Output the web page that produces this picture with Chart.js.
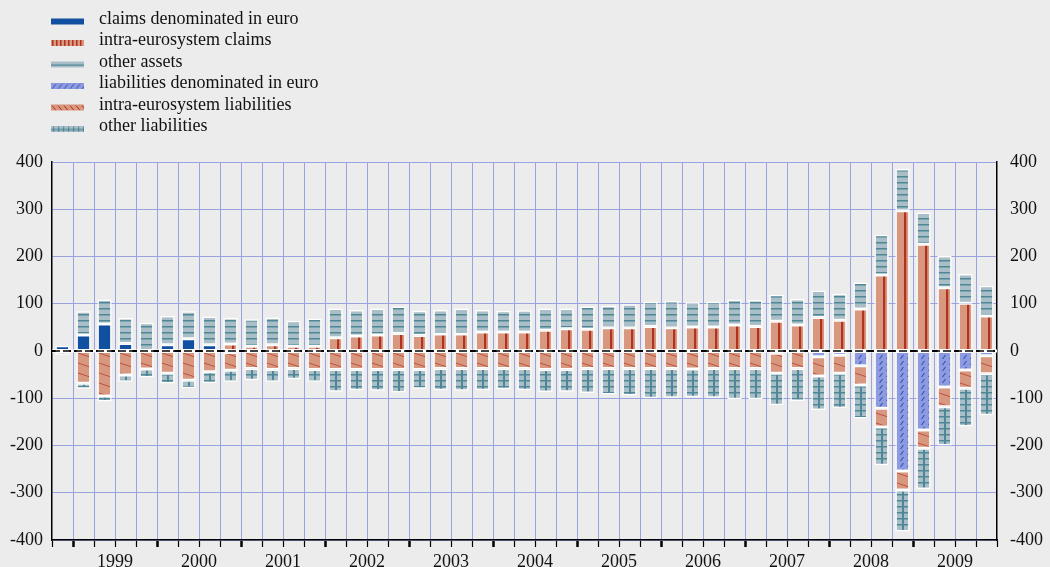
<!DOCTYPE html>
<html>
<head>
<meta charset="utf-8">
<script src="https://cdn.jsdelivr.net/npm/chart.js@4.4.0/dist/chart.umd.min.js"></script>
<style>
  html, body { margin: 0; padding: 0; background: #ececec; }
  #wrap { width: 1050px; height: 567px; }
</style>
</head>
<body>
<div id="wrap"><canvas id="myChart" width="1050" height="567"></canvas></div>
<script>
let labels = ['1998Q4',
  '1999Q1', '1999Q2', '1999Q3', '1999Q4', '2000Q1', '2000Q2', '2000Q3', '2000Q4',
  '2001Q1', '2001Q2', '2001Q3', '2001Q4', '2002Q1', '2002Q2', '2002Q3', '2002Q4',
  '2003Q1', '2003Q2', '2003Q3', '2003Q4', '2004Q1', '2004Q2', '2004Q3', '2004Q4',
  '2005Q1', '2005Q2', '2005Q3', '2005Q4', '2006Q1', '2006Q2', '2006Q3', '2006Q4',
  '2007Q1', '2007Q2', '2007Q3', '2007Q4', '2008Q1', '2008Q2', '2008Q3', '2008Q4',
  '2009Q1', '2009Q2', '2009Q3', '2009Q4'];

let claimsEuro = [11, 34, 57, 16, 0, 13, 26, 13, 0, 0, 0, 0, 0, 0, 0, 0, 0, 0, 0, 0, 0, 0, 0, 0, 0,
  0, 0, 0, 0, 0, 0, 0, 0, 0, 0, 0, 0, 0, 0, 0, 0, 0, 0, 0, 0];
let intraClaims = [0, 0, 0, 0, 0, 0, 0, 0, 15, 10, 13, 10, 10, 28, 32, 34, 37, 33, 36, 36, 40, 40, 40, 44, 47,
  46, 49, 49, 52, 49, 51, 51, 55, 52, 63, 55, 71, 65, 89, 161, 297, 226, 134, 101, 74];
let otherAssets = [0, 50, 52, 54, 60, 61, 58, 60, 55, 57, 58, 54, 59, 62, 55, 56, 57, 52, 51, 54, 47, 45, 46, 46, 43,
  48, 47, 50, 53, 57, 52, 54, 54, 56, 56, 55, 57, 56, 56, 85, 88, 67, 67, 62, 64];
let liabEuro = [0, 0, 0, 0, 0, 0, 0, 0, -3, 0, 0, 0, 0, 0, 0, 0, 0, 0, 0, 0, 0, 0, 0, 0, 0,
  0, 0, 0, 0, 0, 0, 0, 0, 0, -5, 0, -12, -9, -31, -121, -254, -167, -76, -40, -10];
let intraLiab = [0, -68, -95, -51, -38, -47, -62, -44, -38, -37, -39, -37, -39, -39, -39, -39, -39, -39, -37, -37, -37, -37, -37, -39, -39,
  -37, -37, -37, -37, -37, -38, -37, -37, -37, -42, -37, -41, -38, -41, -40, -40, -39, -42, -39, -38];
let otherLiab = [-8, -12, -12, -14, -18, -22, -17, -24, -24, -25, -26, -23, -26, -47, -44, -45, -49, -41, -46, -47, -46, -44, -46, -48, -47,
  -52, -55, -57, -63, -62, -60, -62, -65, -65, -68, -69, -72, -74, -71, -81, -88, -86, -82, -81, -88];

let seriesNames = ['claims denominated in euro', 'intra-eurosystem claims', 'other assets',
  'liabilities denominated in euro', 'intra-eurosystem liabilities', 'other liabilities'];

let ctx = document.getElementById('myChart').getContext('2d');

let blue = '#1150a0';
let salmon = '#d89880';
let red = '#b3321f';
let grey = '#a9bec7';
let teal = '#4f8797';
let peri = '#8e9be0';
let navy = '#2f52b4';

function tile(w, h, bg, draw) {
  let c = document.createElement('canvas');
  c.width = w;
  c.height = h;
  let g = c.getContext('2d');
  g.fillStyle = bg;
  g.fillRect(0, 0, w, h);
  if (draw) draw(g);
  return c;
}

function line(g, color, width, pts) {
  g.strokeStyle = color;
  g.lineWidth = width;
  g.beginPath();
  for (let i = 0; i < pts.length; i += 4) {
    g.moveTo(pts[i], pts[i + 1]);
    g.lineTo(pts[i + 2], pts[i + 3]);
  }
  g.stroke();
}

// tiles used inside the bars (centred on each bar)
let barTiles = [
  null,
  tile(24, 4, salmon, g => { g.fillStyle = red; g.fillRect(13, 0, 2.2, 4); }),
  tile(24, 6, grey, g => { g.fillStyle = teal; g.fillRect(0, 2, 24, 1.5); }),
  tile(7, 6, peri, g => line(g, navy, 1.1, [1.5, 5, 4.5, 1])),
  tile(30, 10, salmon, g => line(g, '#bb4a3a', 0.9, [0, 0, 30, 10, 0, -10, 30, 0, 0, 10, 30, 20])),
  tile(24, 6, grey, g => { g.fillStyle = teal; g.fillRect(0, 2, 24, 1.5); g.fillRect(11, 0, 2, 6); })
];

// tiles used in the legend keys
let keyTiles = [
  tile(4, 6, blue),
  tile(4, 6, salmon, g => { g.fillStyle = red; g.fillRect(1, 0, 1.5, 6); }),
  tile(4, 6, grey, g => { g.fillStyle = teal; g.fillRect(0, 2.5, 4, 1.2); }),
  tile(6, 6, peri, g => line(g, navy, 1, [1, 5.5, 5, 0.5])),
  tile(6, 6, salmon, g => line(g, red, 1, [1, 0.5, 5, 5.5])),
  tile(5, 6, grey, g => { g.fillStyle = teal; g.fillRect(0, 2.5, 5, 1.2); g.fillRect(2, 0.5, 1.2, 5); })
];

function barFill(i) {
  if (!barTiles[i]) return blue;
  let t = barTiles[i];
  return (context) => {
    let p = ctx.createPattern(t, 'repeat');
    let x = context.chart.scales.x;
    if (x && context.dataIndex !== undefined) {
      p.setTransform(new DOMMatrix().translate(Math.round(x.getPixelForValue(context.dataIndex) - t.width / 2), 0));
    }
    return p;
  };
}

let zeroLine = {
  id: 'zeroLine',
  beforeDatasetsDraw(chart) {
    let c = chart.ctx;
    let a = chart.chartArea;
    let y = chart.scales.y.getPixelForValue(0);
    c.save();
    c.strokeStyle = '#fff';
    c.lineWidth = 3;
    c.beginPath();
    c.moveTo(a.left, y);
    c.lineTo(a.right, y);
    c.stroke();
    c.strokeStyle = '#000';
    c.lineWidth = 2;
    c.setLineDash([8, 3]);
    c.beginPath();
    c.moveTo(a.left, y);
    c.lineTo(a.right, y);
    c.stroke();
    c.restore();
  }
};

let keyLegend = {
  id: 'keyLegend',
  afterDraw(chart) {
    let c = chart.ctx;
    c.save();
    c.font = '18px "Liberation Serif"';
    c.textBaseline = 'middle';
    chart.data.datasets.forEach((ds, i) => {
      let y = 19 + i * 21.5;
      let p = c.createPattern(keyTiles[i], 'repeat');
      p.setTransform(new DOMMatrix().translate(51, y));
      c.fillStyle = p;
      c.fillRect(51, y - 0.5, 33, 6);
      c.fillStyle = '#111';
      c.fillText(ds.label, 99, y);
    });
    c.restore();
  }
};

let values = [claimsEuro, intraClaims, otherAssets, liabEuro, intraLiab, otherLiab];
let tickFont = { family: 'Liberation Serif', size: 18, lineHeight: 1 };

let myChart = new Chart(ctx, {
  type: 'bar',
  data: {
    labels: labels,
    datasets: values.map((v, i) => ({
      label: seriesNames[i],
      data: v,
      backgroundColor: barFill(i),
      borderColor: '#fff',
      borderWidth: 1.5,
      borderSkipped: false,
      barPercentage: 0.68,
      categoryPercentage: 1
    }))
  },
  options: {
    responsive: false,
    animation: false,
    layout: { padding: { top: 162, left: 0, right: 0, bottom: 0 } },
    plugins: {
      legend: { display: false },
      tooltip: { enabled: false }
    },
    scales: {
      x: {
        stacked: true,
        grid: {
          color: (c) => (c.index === undefined || c.index === 0) ? 'rgba(0,0,0,0)' : '#98a3df',
          tickColor: '#000',
          tickLength: 7,
          tickWidth: (c) => (c.index % 4 === 1 ? 2.5 : 1.2)
        },
        border: { color: '#000', width: 1.5 },
        ticks: {
          autoSkip: false,
          maxRotation: 0,
          labelOffset: 10.5,
          padding: 6,
          color: '#111',
          font: tickFont,
          callback: (v, i) => labels[i].endsWith('Q2') ? labels[i].slice(0, 4) : ''
        },
        afterFit: (s) => { s.height = 27; }
      },
      y: {
        stacked: true,
        position: 'left',
        min: -400,
        max: 400,
        grid: { color: '#98a3df', drawTicks: false },
        border: { color: '#000', width: 1.5 },
        ticks: { stepSize: 100, padding: 9, color: '#111', font: tickFont },
        afterFit: (s) => { s.width = 52; }
      },
      y2: {
        position: 'right',
        min: -400,
        max: 400,
        grid: { display: false, drawTicks: false },
        border: { color: '#000', width: 1.5 },
        ticks: { stepSize: 100, padding: 13, color: '#111', font: tickFont },
        afterFit: (s) => { s.width = 53; }
      }
    }
  },
  plugins: [zeroLine, keyLegend]
});
</script>
</body>
</html>
